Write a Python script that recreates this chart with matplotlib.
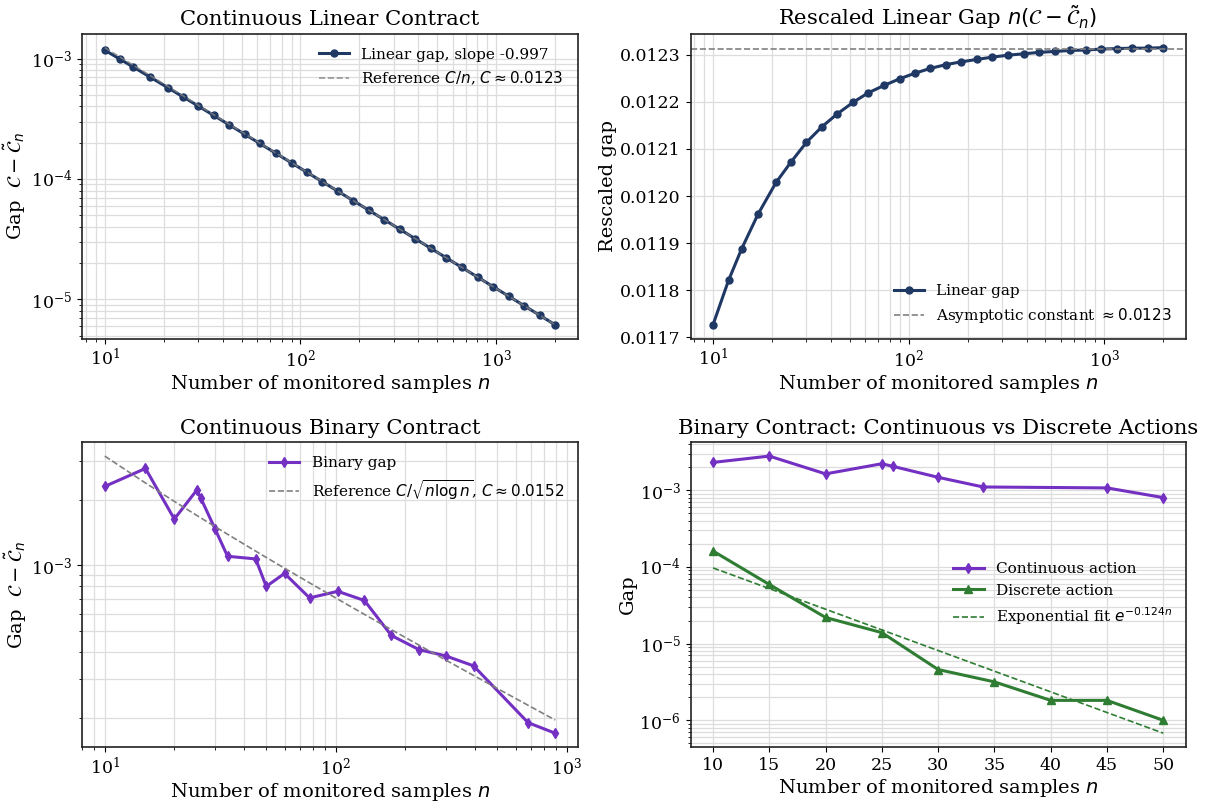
import numpy as np
import matplotlib
matplotlib.use("Agg")
import matplotlib.pyplot as plt

plt.rcParams.update({
    "font.family": "DejaVu Serif",
    "mathtext.fontset": "dejavusans",
    "axes.edgecolor": "#222222",
    "axes.linewidth": 1.2,
    "axes.labelpad": 2.0,
    "grid.color": "#dddddd",
    "grid.linewidth": 0.9,
})

NAVY = "#1f3864"
PURPLE = "#7330c2"
GREEN = "#2e7d32"

# ---------------- linear contract ----------------
n_lin = [10, 12, 14, 17, 21, 25, 30, 36, 43, 52, 62, 75, 90, 108, 129,
         155, 186, 223, 268, 322, 387, 464, 557, 669, 803, 964, 1157, 1389, 1667, 2000]
rescaled_lin = [0.011727, 0.011821, 0.011888, 0.011962, 0.012029, 0.012072,
                0.012114, 0.012147, 0.012174, 0.012199, 0.012219, 0.012235,
                0.012249, 0.012261, 0.012271, 0.012279, 0.012285, 0.012290,
                0.012295, 0.012299, 0.012302, 0.012305, 0.012307, 0.012309,
                0.012310, 0.012312, 0.012313, 0.012314, 0.012314, 0.012315]
C_lin = 0.012312
slope_lin = -0.997

# ---------------- binary contract ----------------
n_bin = [10, 15, 20, 25, 26, 30, 34, 45, 50, 60, 77, 102, 133, 174, 229, 300, 395, 680, 890]
gap_bin = [2.30e-3, 2.78e-3, 1.63e-3, 2.21e-3, 2.04e-3, 1.47e-3, 1.10e-3, 1.07e-3,
           8.0e-4, 9.18e-4, 7.09e-4, 7.6e-4, 6.9e-4, 4.77e-4, 4.11e-4, 3.84e-4,
           3.46e-4, 1.90e-4, 1.70e-4]
C_bin = 0.0152

# ---------------- continuous vs discrete actions ----------------
n_cont = [10, 15, 20, 25, 26, 30, 34, 45, 50]
gap_cont = [2.30e-3, 2.78e-3, 1.63e-3, 2.21e-3, 2.04e-3, 1.47e-3, 1.10e-3, 1.07e-3, 8.0e-4]
n_disc = [10, 15, 20, 25, 30, 35, 40, 45, 50]
gap_disc = [1.61e-4, 5.9e-5, 2.19e-5, 1.39e-5, 4.59e-6, 3.17e-6, 1.82e-6, 1.82e-6, 1.0e-6]
exp_rate = 0.124
exp_amp = 3.35e-4


def style(ax, title, xlabel, ylabel):
    ax.set_title(title, fontsize=15.2)
    ax.set_xlabel(xlabel, fontsize=14)
    ax.set_ylabel(ylabel, fontsize=14)
    ax.tick_params(labelsize=12.5)
    ax.grid(True, which="both")
    ax.set_axisbelow(True)


fig, axes = plt.subplots(2, 2, figsize=(12.1, 8.05), dpi=100)
fig.subplots_adjust(left=0.068, right=0.98, top=0.958, bottom=0.072,
                    wspace=0.228, hspace=0.34)
xlab = "Number of monitored samples $n$"
gap_lab = r"Gap  $\mathcal{C} - \tilde{\mathcal{C}}_n$"

# top left: gap on log-log axes
ax = axes[0, 0]
n = np.array(n_lin, dtype=float)
gap_lin = np.array(rescaled_lin) / n
ax.loglog(n, gap_lin, "o-", color=NAVY, lw=2.2, ms=5,
          label=f"Linear gap, slope {slope_lin}")
ax.loglog(n, C_lin / n, "--", color="gray", lw=1.2, alpha=0.8,
          label=r"Reference $C/n$, $C \approx 0.0123$")
ax.legend(frameon=False, fontsize=11, loc="upper right")
style(ax, "Continuous Linear Contract", xlab, gap_lab)

# top right: rescaled gap
ax = axes[0, 1]
ax.semilogx(n_lin, rescaled_lin, "o-", color=NAVY, lw=2.2, ms=5, label="Linear gap")
ax.axhline(C_lin, ls="--", color="gray", lw=1.2,
           label=r"Asymptotic constant $\approx 0.0123$")
ax.legend(frameon=False, fontsize=11, loc="lower right")
style(ax, r"Rescaled Linear Gap $n(\mathcal{C} - \tilde{\mathcal{C}}_n)$", xlab, "Rescaled gap")

# bottom left: binary gap
ax = axes[1, 0]
nb = np.array(n_bin, dtype=float)
ax.loglog(n_bin, gap_bin, "d-", color=PURPLE, lw=2.2, ms=5.5, label="Binary gap")
ax.loglog(nb, C_bin / np.sqrt(nb * np.log(nb)), "--", color="gray", lw=1.2,
          label=r"Reference $C/\sqrt{n \log n}$, $C \approx 0.0152$")
ax.legend(frameon=False, fontsize=11, loc="upper right")
style(ax, "Continuous Binary Contract", xlab, gap_lab)

# bottom right: continuous vs discrete actions
ax = axes[1, 1]
nd = np.array(n_disc, dtype=float)
ax.semilogy(n_cont, gap_cont, "d-", color=PURPLE, lw=2.2, ms=5.5, label="Continuous action")
ax.semilogy(n_disc, gap_disc, "^-", color=GREEN, lw=2.2, ms=5.5, label="Discrete action")
ax.semilogy(nd, exp_amp * np.exp(-exp_rate * nd), "--", color=GREEN, lw=1.2,
            label=r"Exponential fit $e^{-0.124n}$")
ax.set_xticks(n_disc)
ax.legend(frameon=False, fontsize=11, loc="center right")
style(ax, "Binary Contract: Continuous vs Discrete Actions", xlab, "Gap")

fig.savefig("out.png", dpi=100)
